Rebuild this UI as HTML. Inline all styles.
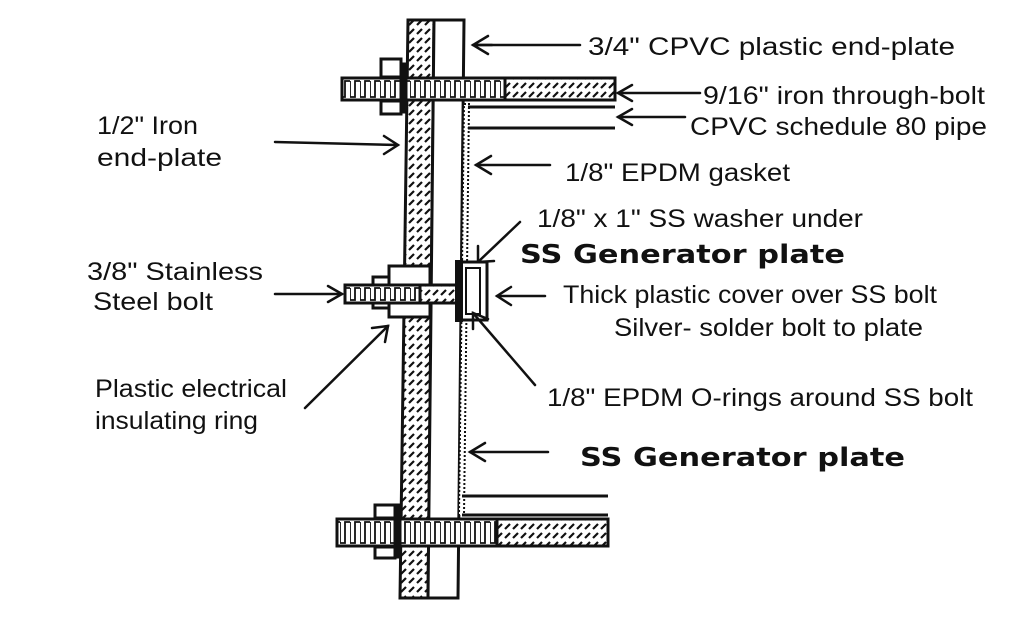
<!DOCTYPE html>
<html><head><meta charset="utf-8"><style>
html,body{margin:0;padding:0;background:#fff;}
svg{display:block}
text{font-family:"Liberation Sans",sans-serif;fill:#111;font-size:25px}
.b{font-weight:bold;font-size:26px;font-family:"DejaVu Sans","Liberation Sans",sans-serif}
</style></head><body>
<svg width="1024" height="624" viewBox="0 0 1024 624" xmlns="http://www.w3.org/2000/svg">
<defs>
<pattern id="h" width="8" height="9" patternUnits="userSpaceOnUse">
<rect width="8" height="9" fill="#fff"/><line x1="1" y1="7" x2="6" y2="2" stroke="#111" stroke-width="2.2"/>
</pattern>
<pattern id="t1" x="0" y="78" width="10" height="22" patternUnits="userSpaceOnUse">
<rect width="10" height="22" fill="#fff"/>
<path d="M0,3 V19 H5 V3 H10" fill="none" stroke="#111" stroke-width="1.8"/>
</pattern>
<pattern id="t2" x="0" y="519" width="10" height="27" patternUnits="userSpaceOnUse">
<rect width="10" height="27" fill="#fff"/>
<path d="M0,3 V24 H5 V3 H10" fill="none" stroke="#111" stroke-width="1.8"/>
</pattern>
<pattern id="t3" x="0" y="285" width="10" height="18" patternUnits="userSpaceOnUse">
<rect width="10" height="18" fill="#fff"/>
<path d="M0,3 V15 H5 V3 H10" fill="none" stroke="#111" stroke-width="1.8"/>
</pattern>
</defs>
<g stroke="#111" stroke-width="3">
<polygon points="408,20 434,20 428,598 400,598" fill="url(#h)"/>
<polygon points="434,20 464,20 458,598 428,598" fill="#fff"/>
<polygon points="464,104 469,104 464,515 459,515" fill="#fff" stroke-width="2" stroke-dasharray="2 2"/>
<line x1="468" y1="107" x2="615" y2="107"/>
<line x1="468" y1="128" x2="615" y2="128"/>
<line x1="462" y1="496" x2="608" y2="496"/>
<line x1="462" y1="515" x2="608" y2="515"/>
<rect x="342" y="78" width="163" height="22" fill="url(#t1)"/>
<rect x="505" y="78" width="110" height="22" fill="url(#h)"/>
<rect x="381" y="59" width="20" height="18" fill="#fff"/>
<rect x="381" y="101" width="20" height="13" fill="#fff"/>
<rect x="401" y="64" width="5" height="48" fill="#111"/>
<rect x="337" y="519" width="160" height="27" fill="url(#t2)"/>
<rect x="497" y="519" width="111" height="27" fill="url(#h)"/>
<rect x="375" y="505" width="20" height="13" fill="#fff"/>
<rect x="375" y="547" width="20" height="11" fill="#fff"/>
<rect x="395" y="505" width="5" height="52" fill="#111"/>
<rect x="389" y="266" width="41" height="51" fill="#fff"/>
<rect x="373" y="277" width="16" height="31" fill="#fff"/>
<rect x="345" y="285" width="75" height="18" fill="url(#t3)"/>
<rect x="420" y="285" width="48" height="18" fill="url(#h)"/>
<rect x="461" y="262" width="26" height="58" fill="#fff"/>
<rect x="466" y="268" width="14" height="46" fill="#fff" stroke-width="2"/>
<rect x="455" y="260" width="8" height="62" fill="#111" stroke="none"/>
</g>
<g stroke="#111" stroke-width="2.5" fill="none" stroke-linecap="round">
<line x1="473" y1="45" x2="580" y2="45"/><path d="M488,36 L473,45 L488,54 M476,45 L492,45"/>
<line x1="618" y1="93" x2="700" y2="93"/><path d="M632,85 L618,93 L632,101"/>
<line x1="618" y1="117" x2="685" y2="117"/><path d="M632,109 L618,117 L632,125"/>
<line x1="476" y1="165" x2="550" y2="165"/><path d="M491,156 L476,165 L491,174"/>
<line x1="478" y1="262" x2="520" y2="222"/><path d="M478,246 L478,262 L494,261"/>
<line x1="497" y1="296" x2="545" y2="296"/><path d="M511,287 L497,296 L511,305"/>
<line x1="473" y1="313" x2="535" y2="385"/><path d="M473,329 L473,313 L488,319"/>
<line x1="470" y1="452" x2="548" y2="452"/><path d="M485,443 L470,452 L485,461"/>
<line x1="398" y1="145" x2="275" y2="142"/><path d="M384,136 L398,145 L384,154"/>
<line x1="342" y1="294" x2="275" y2="294"/><path d="M328,286 L342,294 L328,302"/>
<line x1="388" y1="326" x2="305" y2="408"/><path d="M372,328 L388,326 L385,342"/>
</g>
<g>
<text x="588" y="55" textLength="367" lengthAdjust="spacingAndGlyphs">3/4"  CPVC  plastic  end-plate</text>
<text x="703" y="104" textLength="282" lengthAdjust="spacingAndGlyphs">9/16"  iron  through-bolt</text>
<text x="690" y="135" textLength="297" lengthAdjust="spacingAndGlyphs">CPVC schedule 80 pipe</text>
<text x="565" y="181" textLength="225" lengthAdjust="spacingAndGlyphs">1/8"  EPDM  gasket</text>
<text x="537" y="227" textLength="326" lengthAdjust="spacingAndGlyphs">1/8" x 1"  SS washer  under</text>
<text class="b" x="520" y="263" textLength="325" lengthAdjust="spacingAndGlyphs">SS Generator plate</text>
<text x="563" y="303" textLength="374" lengthAdjust="spacingAndGlyphs">Thick plastic cover over SS bolt</text>
<text x="614" y="336" textLength="309" lengthAdjust="spacingAndGlyphs">Silver- solder bolt to plate</text>
<text x="547" y="406" textLength="426" lengthAdjust="spacingAndGlyphs">1/8"  EPDM  O-rings around SS bolt</text>
<text class="b" x="580" y="466" textLength="325" lengthAdjust="spacingAndGlyphs">SS Generator plate</text>
<text x="97" y="134" textLength="101" lengthAdjust="spacingAndGlyphs">1/2" Iron</text>
<text x="97" y="166" textLength="125" lengthAdjust="spacingAndGlyphs">end-plate</text>
<text x="87" y="280" textLength="176" lengthAdjust="spacingAndGlyphs">3/8"  Stainless</text>
<text x="93" y="310" textLength="120" lengthAdjust="spacingAndGlyphs">Steel  bolt</text>
<text x="95" y="397" textLength="192" lengthAdjust="spacingAndGlyphs">Plastic electrical</text>
<text x="95" y="429" textLength="163" lengthAdjust="spacingAndGlyphs">insulating ring</text>
</g>
</svg>
</body></html>
